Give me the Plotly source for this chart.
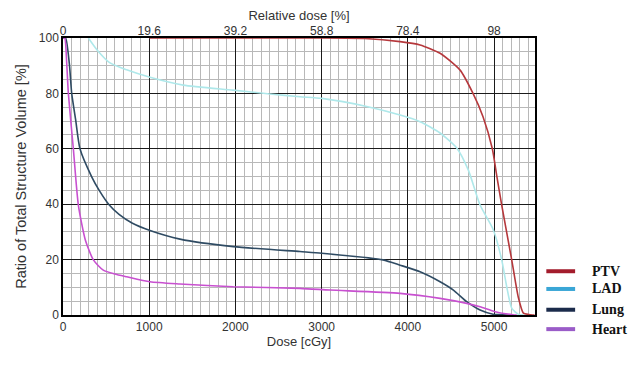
import plotly.graph_objects as go

# ---- data ----
ptv_dose = [1000, 2000, 3000, 3500, 3910, 4142, 4374, 4606, 4756, 4872, 4980, 5030, 5089, 5205, 5280, 5340, 5400, 5470]
ptv_vol = [100, 100, 100, 99.8, 98.7, 97.5, 94.5, 88.4, 80, 71.6, 60, 50.5, 39.7, 19.9, 6.6, 0.7, 0.2, 0]

lad_dose = [294, 400, 545, 739, 1009, 1395, 1972, 2400, 2749, 3001, 3523, 3910, 4142, 4374, 4567, 4702, 4838, 4992, 5089, 5147, 5205, 5280, 5350]
lad_vol = [100, 95.5, 91, 88.5, 85.8, 83, 81.2, 79.8, 78.8, 78.2, 75.3, 72.2, 69.8, 65.7, 60.3, 52.3, 39.7, 30.7, 19.9, 10.2, 2.5, 0.3, 0]

lung_dose = [0, 30, 73, 101, 147, 197, 333, 420, 537, 650, 800, 1009, 1357, 1976, 2749, 3001, 3712, 3910, 4142, 4374, 4528, 4683, 4838, 4988, 5100, 5200]
lung_vol = [100, 100, 90.9, 80, 70.4, 60, 49.9, 45.0, 39.7, 36.3, 33.2, 30.5, 27.4, 24.7, 22.9, 22.3, 19.9, 18, 15.6, 12, 9, 4.8, 1.8, 0.3, 0.1, 0]

heart_dose = [0, 20, 43, 62, 120, 178, 260, 352, 467, 600, 739, 1009, 1357, 1976, 2749, 3097, 3910, 4374, 4683, 4838, 5012, 5218, 5263]
heart_vol = [100, 100, 90.9, 80, 60, 39.7, 27, 19.9, 16.2, 14.8, 13.8, 12, 11.2, 10.2, 9.6, 9, 7.8, 6, 4.2, 3, 1.2, 0.1, 0]

series_names = ["PTV", "LAD", "Lung", "Heart"]
line_colors = ["#b5383c", "#aee8ea", "#2f4b63", "#c850d0"]
legend_colors = ["#a31c2c", "#3aa6d6", "#1b2b4b", "#9a5cc8"]

dose_ticks = [0, 1000, 2000, 3000, 4000, 5000]
dose_labels = ["0", "1000", "2000", "3000", "4000", "5000"]
rel_labels = ["0", "19.6", "39.2", "58.8", "78.4", "98"]
vol_ticks = [0, 20, 40, 60, 80, 100]

x_range = [0, 5475]

fig = go.Figure()
for name, xs, ys, col in zip(series_names,
                             [ptv_dose, lad_dose, lung_dose, heart_dose],
                             [ptv_vol, lad_vol, lung_vol, heart_vol],
                             line_colors):
    fig.add_trace(go.Scatter(x=xs, y=ys, mode="lines", name=name,
                             line=dict(color=col, width=1.6, shape="spline", smoothing=0.6),
                             showlegend=False))

narrow = "Liberation Sans Narrow, Arial Narrow, Liberation Sans, Arial"
tickfont = dict(family=narrow, size=12, color="#333333")
axis_common = dict(showline=True, linecolor="black", linewidth=1.5, mirror=True,
                   gridcolor="#1a1a1a", gridwidth=1.4, zeroline=False, ticks="",
                   tickfont=tickfont, automargin=False, layer="below traces")

# page body has an 8px default margin, so the figure is sized/offset to compensate
fig.update_layout(
    width=636, height=361,
    margin=dict(l=55, r=109, t=30, b=54),
    paper_bgcolor="white", plot_bgcolor="white",
    xaxis=dict(range=x_range, tickvals=dose_ticks, ticktext=dose_labels,
               title=dict(text="Dose [cGy]", font=dict(family=narrow, size=13, color="#333333"), standoff=2),
               minor=dict(dtick=100, showgrid=True, gridcolor="#b8b8b8", gridwidth=1),
               **axis_common),
    xaxis2=dict(range=x_range, overlaying="x", side="top", tickvals=dose_ticks, ticktext=rel_labels,
                showgrid=False, showline=False, zeroline=False, ticks="", tickfont=tickfont, automargin=False,
                title=dict(text="Relative dose [%]", font=dict(family=narrow, size=13, color="#333333"), standoff=5)),
    yaxis=dict(range=[0, 100], tickvals=vol_ticks,
               title=dict(text="Ratio of Total Structure Volume [%]", font=dict(family="Liberation Sans, Arial", size=14.5, color="#333333"), standoff=9),
               minor=dict(dtick=5, showgrid=True, gridcolor="#b8b8b8", gridwidth=1),
               **axis_common),
)
# invisible trace anchoring the top axis
fig.add_trace(go.Scatter(x=[0], y=[0], xaxis="x2", mode="markers", marker=dict(opacity=0), showlegend=False, hoverinfo="skip"))

# custom legend
legend_y = [0.158, 0.094, 0.019, -0.051]
for name, col, ly in zip(series_names, legend_colors, legend_y):
    fig.add_shape(type="line", xref="paper", yref="paper", x0=1.024, x1=1.085, y0=ly, y1=ly,
                  line=dict(color=col, width=4))
    fig.add_annotation(xref="paper", yref="paper", x=1.116, y=ly, text="<b>%s</b>" % name,
                       showarrow=False, xanchor="left", yanchor="middle",
                       font=dict(family="Liberation Serif, Times New Roman", size=14, color="#111111"))

fig.write_html("out.html")
